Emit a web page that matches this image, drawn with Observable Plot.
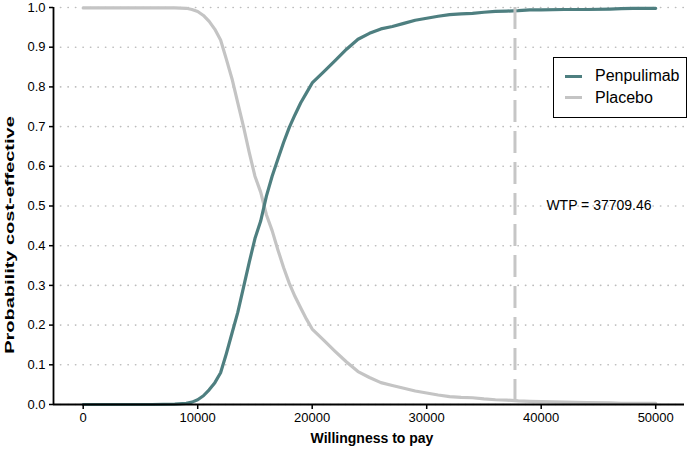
<!DOCTYPE html>
<html>
<head>
<meta charset="utf-8">
<script src="https://cdn.jsdelivr.net/npm/d3@7"></script>
<script src="https://cdn.jsdelivr.net/npm/@observablehq/plot@0.6"></script>
<style>
  body { margin: 0; background: #fff; }
  #wrap { position: relative; width: 692px; height: 453px; font-family: "Liberation Sans", Arial, sans-serif; }
  #legend { position: absolute; left: 553px; top: 57px; width: 134px; height: 61px; box-sizing: border-box;
            border: 1.5px solid #000; background: #fff; }
  .row { position: absolute; left: 0; height: 20px; display: flex; align-items: center; font-size: 16px; color: #000; }
  .sw { width: 17px; height: 3px; margin-left: 11px; margin-right: 13px; }
</style>
</head>
<body>
<div id="wrap"></div>
<script>
const wtpGrid = [0, 2000, 4000, 6000, 8000, 9000, 9500, 10000, 10500, 11000, 11500, 12000, 12500, 13000, 13500, 14000, 14500, 15000, 15500, 16000, 16500, 17000, 17500, 18000, 18500, 19000, 19500, 20000, 20500, 21000, 22000, 23000, 24000, 25000, 26000, 27000, 28000, 29000, 30000, 31000, 32000, 33000, 34000, 35000, 36000, 37000, 38000, 39000, 40000, 42000, 44000, 46000, 47000, 48000, 50000];
const penpulimab = [0, 0, 0, 0, 0.001, 0.003, 0.006, 0.012, 0.022, 0.037, 0.055, 0.08, 0.128, 0.18, 0.232, 0.295, 0.358, 0.418, 0.462, 0.525, 0.575, 0.618, 0.66, 0.698, 0.73, 0.76, 0.785, 0.81, 0.824, 0.838, 0.866, 0.895, 0.92, 0.935, 0.946, 0.952, 0.96, 0.968, 0.973, 0.978, 0.982, 0.984, 0.985, 0.988, 0.99, 0.991, 0.992, 0.994, 0.994, 0.995, 0.995, 0.996, 0.997, 0.998, 0.998];
const placebo = [0.999, 0.999, 0.999, 0.999, 0.999, 0.998, 0.995, 0.99, 0.98, 0.965, 0.945, 0.918, 0.87, 0.82, 0.76, 0.70, 0.635, 0.575, 0.535, 0.478, 0.438, 0.39, 0.345, 0.305, 0.272, 0.243, 0.215, 0.19, 0.176, 0.162, 0.134, 0.107, 0.083, 0.068, 0.055, 0.048, 0.041, 0.034, 0.029, 0.024, 0.02, 0.018, 0.017, 0.014, 0.012, 0.011, 0.009, 0.008, 0.007, 0.006, 0.005, 0.004, 0.003, 0.003, 0.003];
const seriesNames = ["Penpulimab", "Placebo"];
const seriesColors = ["#4e7f80", "#c4c4c4"];
const wtpThreshold = 37709.46;
const xTicks = [0, 10000, 20000, 30000, 40000, 50000];
const yTicks = [0, 0.1, 0.2, 0.3, 0.4, 0.5, 0.6, 0.7, 0.8, 0.9, 1.0];

const penData = wtpGrid.map((x, i) => ({x, y: penpulimab[i]}));
const plaData = wtpGrid.map((x, i) => ({x, y: placebo[i]}));
const xDomain = [-2594, 52515];

const chart = Plot.plot({
  width: 692, height: 453,
  marginLeft: 53, marginRight: 8, marginTop: 7, marginBottom: 49,
  style: {fontFamily: '"Liberation Sans", Arial, sans-serif', background: "#fff"},
  x: {domain: xDomain},
  y: {domain: [0, 1]},
  marks: [
    Plot.ruleY(yTicks, {stroke: "#bdbdbd", strokeWidth: 1.6, strokeDasharray: "0.3,7.2", strokeLinecap: "round"}),
    Plot.line(plaData, {x: "x", y: "y", stroke: seriesColors[1], strokeWidth: 3.2, strokeLinejoin: "round"}),
    Plot.line(penData, {x: "x", y: "y", stroke: seriesColors[0], strokeWidth: 3.2, strokeLinejoin: "round"}),
    Plot.ruleX([wtpThreshold], {stroke: "#c6c6c6", strokeWidth: 3, strokeDasharray: "22,9"}),
    Plot.text([`WTP = ${wtpThreshold}`], {x: wtpThreshold, y: 0.5, dx: 84, fontSize: 14, fill: "#000"}),
    Plot.ruleY([0], {stroke: "#000", strokeWidth: 1.8}),
    Plot.ruleX([xDomain[0]], {stroke: "#000", strokeWidth: 1.8}),
    Plot.axisX({ticks: xTicks, tickFormat: d => String(d), tickSize: 5, tickPadding: 3, fontSize: 13, label: null, stroke: "#000", strokeWidth: 1.5, color: "#000"}),
    Plot.axisY({ticks: yTicks, tickFormat: d3.format(".1f"), tickSize: 4, tickPadding: 4, fontSize: 13, label: null, stroke: "#000", strokeWidth: 1.5, color: "#000"}),
    Plot.text(["Willingness to pay"], {frameAnchor: "bottom", dy: 38, dx: 3, fontSize: 14, fontWeight: "bold", fill: "#000"}),
    Plot.text(["Probability cost-effective"], {frameAnchor: "left", textAnchor: "middle", dx: -44, dy: 29, rotate: -90, fontSize: 13.5, fontWeight: "bold", fill: "#000", className: "ylab"})
  ]
});
document.getElementById("wrap").appendChild(chart);
const yl = chart.querySelector(".ylab text");
if (yl) {
  const tr = yl.getAttribute("transform") || "";
  yl.setAttribute("transform", tr + " scale(1.48,1)");
}

const legend = document.createElement("div");
legend.id = "legend";
seriesNames.forEach((name, i) => {
  const row = document.createElement("div");
  row.className = "row";
  row.style.top = (i === 0 ? 8 : 29.5) + "px";
  const sw = document.createElement("span");
  sw.className = "sw";
  sw.style.background = seriesColors[i];
  const t = document.createElement("span");
  t.textContent = name;
  row.appendChild(sw); row.appendChild(t);
  legend.appendChild(row);
});
document.getElementById("wrap").appendChild(legend);
</script>
</body>
</html>
